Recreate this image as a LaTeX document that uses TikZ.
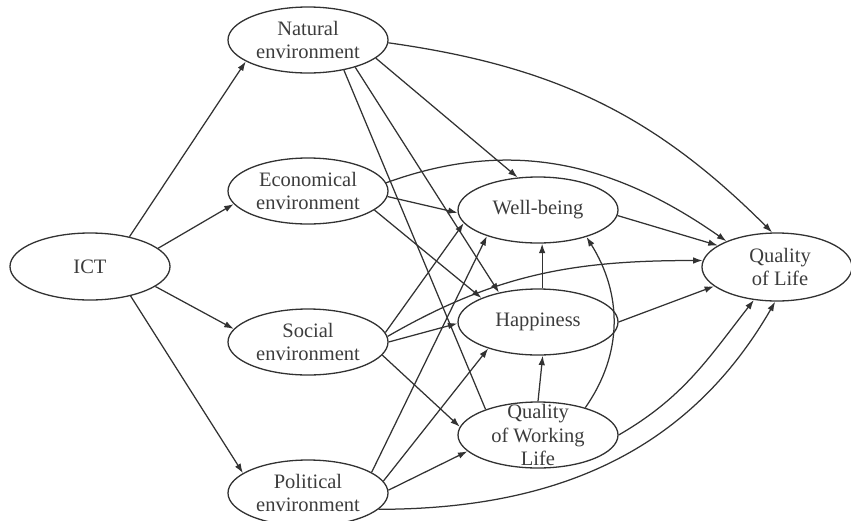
\documentclass[tikz,border=0pt]{standalone}
\usepackage{fontspec}
\setmainfont{Liberation Serif}
\usetikzlibrary{shapes.geometric,arrows.meta}
\definecolor{ink}{RGB}{50,50,50}
\definecolor{txtc}{RGB}{60,60,60}
\tikzset{
  bubble/.style={ellipse, draw=ink, line width=1.3pt, minimum width=160pt, minimum height=66pt, inner sep=0pt},
  lbl/.style={align=center, text=txtc, inner sep=0pt, font=\fontsize{20.5}{23.5}\selectfont},
  arr/.style={draw=ink, line width=1.25pt, -{Latex[length=9.5pt,width=6.5pt]}},
  plain/.style={draw=ink, line width=1.25pt},
}
\begin{document}
\begin{tikzpicture}[x=1pt,y=-1pt]
\useasboundingbox (0,0) rectangle (851,520);
% nodes
\node[bubble, minimum height=67pt] (ict) at (90,266.5) {};
\node[lbl] at (ict) {ICT};
\node[bubble] (nat) at (308,40) {};
\node[lbl] at (nat) {Natural\\environment};
\node[bubble] (eco) at (308,191) {};
\node[lbl] at (eco) {Economical\\environment};
\node[bubble] (soc) at (308,342) {};
\node[lbl] at (soc) {Social\\environment};
\node[bubble] (pol) at (308,493) {};
\node[lbl] at (pol) {Political\\environment};
\node[bubble] (wb) at (538,210) {};
\node[lbl] at (wb) {Well-being};
\node[bubble] (hap) at (538,322) {};
\node[lbl] at (hap) {Happiness};
\node[bubble] (qwl) at (538,435) {};
\node[lbl] at (qwl) {Quality\\of Working\\Life};
\node[bubble, minimum width=150pt, minimum height=68pt] (qol) at (777,267) {};
\node[lbl] at ([xshift=3pt]qol) {Quality\\of Life};
% ICT edges
\draw[arr] (ict.37) -- (nat.199);
\draw[arr] (ict.15) -- (eco.190.6);
\draw[arr] (ict.343.6) -- (soc.170.4);
\draw[arr] (ict.324.7) -- (pol.163.9);
% Natural
\draw[arr] (nat.345) -- (wb.122.5);
\draw[arr] (nat.330) -- (hap.143.8);
\draw[plain] (nat.320) -- (qwl.154.3);
\draw[arr] (nat.358.6) to[out=-8,in=135] (qol.98);
% Economical
\draw[arr] (eco.356) -- (wb.182);
\draw[arr] (eco.344) -- (hap.157.7);
\draw[arr] (eco.6) to[out=20,in=145] (qol.153.4);
% Social
\draw[arr] (soc.7.6) -- (wb.190.9);
\draw[arr] (soc.0) -- (hap.181);
\draw[arr] (soc.4.3) to[out=30,in=180] (qol.175);
\draw[arr] (soc.350) -- (qwl.174);
% Political
\draw[arr] (pol.18.2) -- (wb.207);
\draw[arr] (pol.9.8) -- (hap.208.8);
\draw[arr] (pol.2) -- (qwl.193.5);
\draw[arr] (pol.347) to[out=0,in=240] (qol.267);
% outcomes
\draw[arr] (wb.356) -- (qol.160);
\draw[arr] (hap.0) -- (qol.197);
\draw[arr] (qwl.0) to[out=30,in=232] (qol.235.5);
\draw[arr] (hap.83) -- (wb.277);
\draw[arr] (qwl.90) -- (hap.278);
\draw[arr] (qwl.30.6) to[out=55,in=-58] (wb.331.6);
\end{tikzpicture}
\end{document}
